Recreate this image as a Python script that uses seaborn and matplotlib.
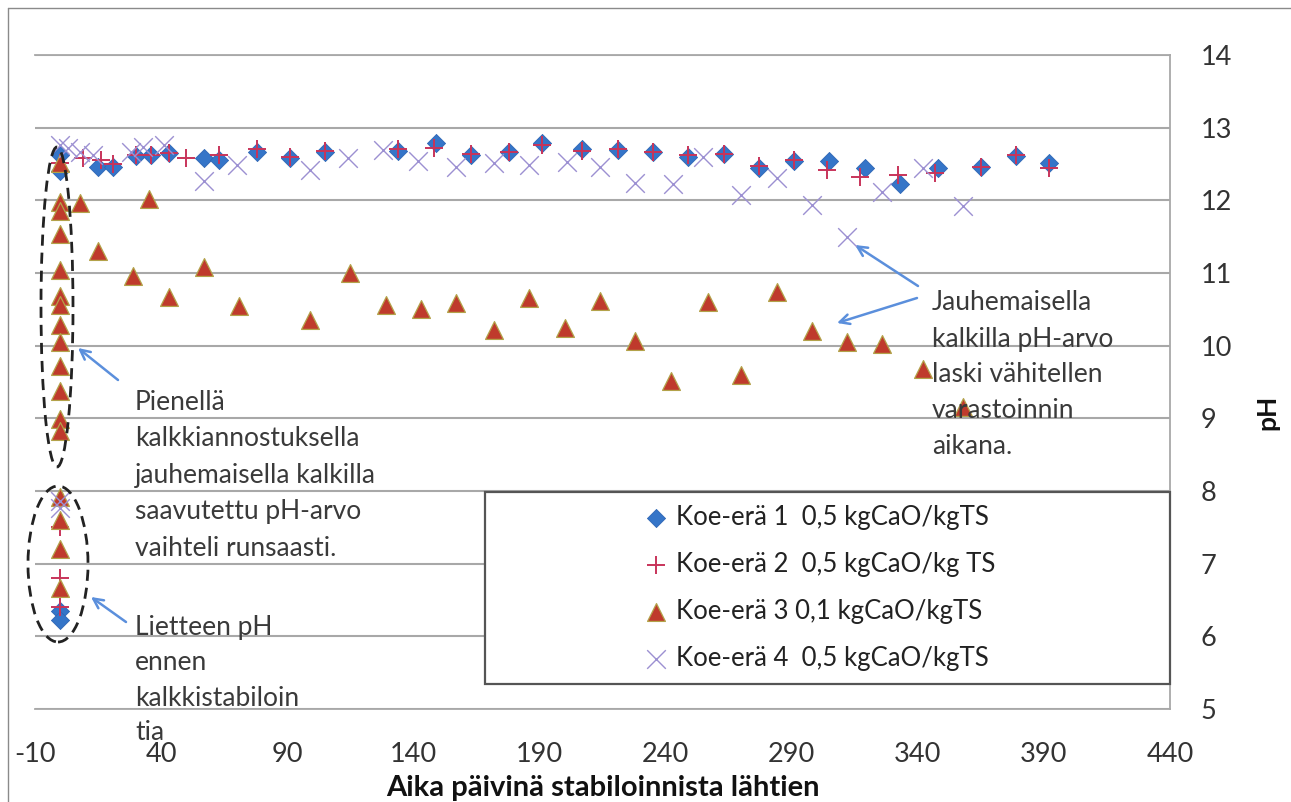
import numpy as np
import pandas as pd
import seaborn as sns
import matplotlib
matplotlib.use("Agg")
import matplotlib.pyplot as plt
from matplotlib.patches import Ellipse, Rectangle
from matplotlib.lines import Line2D

# ---------------- data ----------------
labels = ["Koe-erä 1  0,5 kgCaO/kgTS",
          "Koe-erä 2  0,5 kgCaO/kg TS",
          "Koe-erä 3 0,1 kgCaO/kgTS",
          "Koe-erä 4  0,5 kgCaO/kgTS"]

x1 = [0, 0, 0, 0, 15, 21, 30, 36, 43, 57, 63, 78, 91, 105, 134, 149, 163, 178, 191, 207,
      221, 235, 249, 263, 277, 291, 305, 319, 333, 348, 365, 379, 392]
y1 = [12.62, 12.40, 6.35, 6.22, 12.46, 12.46, 12.61, 12.62, 12.65, 12.58, 12.56, 12.67,
      12.58, 12.67, 12.68, 12.79, 12.62, 12.67, 12.79, 12.71, 12.69, 12.67, 12.60, 12.64,
      12.45, 12.54, 12.54, 12.45, 12.22, 12.45, 12.46, 12.61, 12.52]

x2 = [0, 0, 0, 0, 9, 16, 21, 30, 36, 43, 50, 63, 78, 91, 105, 134, 148, 163, 178, 191, 207,
      221, 235, 249, 263, 277, 291, 304, 317, 332, 347, 365, 379, 392]
y2 = [12.52, 7.50, 6.80, 6.40, 12.58, 12.55, 12.50, 12.62, 12.62, 12.65, 12.58, 12.63,
      12.70, 12.60, 12.68, 12.70, 12.72, 12.64, 12.67, 12.76, 12.68, 12.70, 12.67, 12.62,
      12.64, 12.47, 12.55, 12.42, 12.32, 12.35, 12.38, 12.46, 12.62, 12.45]

x3 = [0, 0, 0, 0, 0, 0, 0, 0, 0, 0, 0, 0, 0, 0, 0, 0, 0,
      8, 15, 29, 35, 43, 57, 71, 99, 115, 129, 143, 157, 172, 186, 200, 214, 228, 242,
      257, 270, 284, 298, 312, 326, 342, 358]
y3 = [12.52, 11.98, 11.86, 11.53, 11.04, 10.68, 10.56, 10.28, 10.05, 9.72, 9.37, 8.99,
      8.82, 7.92, 7.60, 7.20, 6.66,
      11.96, 11.30, 10.96, 12.02, 10.67, 11.08, 10.55, 10.36, 11.00, 10.56, 10.51, 10.59,
      10.21, 10.65, 10.25, 10.62, 10.06, 9.51, 10.60, 9.60, 10.74, 10.20, 10.05, 10.02,
      9.68, 9.16]

x4 = [0, 0, 0, 3, 8, 13, 28, 33, 41, 57, 70, 99, 114, 128, 142, 157, 172, 186, 201, 214,
      228, 243, 255, 270, 284, 298, 312, 326, 342, 358]
y4 = [12.76, 7.86, 7.76, 12.72, 12.67, 12.62, 12.67, 12.73, 12.76, 12.26, 12.49, 12.42,
      12.58, 12.69, 12.54, 12.46, 12.52, 12.49, 12.53, 12.46, 12.24, 12.22, 12.60, 12.08,
      12.31, 11.94, 11.49, 12.12, 12.45, 11.92]

x_ticks = [-10, 40, 90, 140, 190, 240, 290, 340, 390, 440]
y_ticks = [5, 6, 7, 8, 9, 10, 11, 12, 13, 14]

x_title = "Aika päivinä stabiloinnista lähtien"
y_title = "pH"

note_low_dose = ["Pienellä", "kalkkiannostuksella", "jauhemaisella kalkilla",
                 "saavutettu pH-arvo", "vaihteli runsaasti."]
note_initial = ["Lietteen pH", "ennen", "kalkkistabiloin", "tia"]
note_decline = ["Jauhemaisella", "kalkilla pH-arvo", "laski vähitellen",
                "varastoinnin", "aikana."]

# ---------------- style ----------------
sns.set_style("white")
plt.rcParams["font.family"] = ["Lato", "DejaVu Sans"]
plt.rcParams["axes.unicode_minus"] = False

W, H = 1291, 802
def fx(px):
    return px / W
def fy(py):
    return 1 - py / H

fig = plt.figure(figsize=(W / 100, H / 100), dpi=100, facecolor="white")
ax = fig.add_axes([fx(35), fy(709), 1135 / W, 654 / H])

series = [
    (x1, y1, labels[0], dict(marker="D", s=85, color="#3575c8", edgecolor="#2f67b5", linewidth=0.6)),
    (x2, y2, labels[1], dict(marker="+", s=150, color="#c8345a", linewidth=1.4)),
    (x3, y3, labels[2], dict(marker="^", s=165, color="#bf3a2c", edgecolor="#b3a24a", linewidth=0.9)),
    (x4, y4, labels[3], dict(marker="x", s=180, color="#9c90d2", linewidth=1.0)),
]
for i, (xs, ys, lab, kw) in enumerate(series):
    df = pd.DataFrame({"day": xs, "pH": ys})
    sns.scatterplot(data=df, x="day", y="pH", ax=ax, label=lab, zorder=3 + i, **kw)

ax.set_xlim(-10, 440)
ax.set_ylim(5, 14)
ax.set_xticks(x_ticks)
ax.set_yticks(y_ticks)
ax.yaxis.tick_right()
ax.tick_params(axis="both", length=0, labelsize=19.5, labelcolor="#333333")
ax.tick_params(axis="y", pad=22)
ax.tick_params(axis="x", pad=24)
ax.yaxis.grid(True, color="#a8a8a8", linewidth=1.5)
ax.xaxis.grid(False)
ax.set_axisbelow(True)
ax.spines["left"].set_visible(False)
for side in ["right", "top", "bottom"]:
    ax.spines[side].set_color("#a8a8a8")
    ax.spines[side].set_linewidth(1.3)

ax.set_xlabel(x_title, fontsize=21, fontweight="bold", color="#111111")
ax.xaxis.set_label_coords(0.5, (709 - 788) / 654)
ax.xaxis.label.set_va("center")
ax.yaxis.set_label_position("right")
ax.set_ylabel(y_title, fontsize=19, fontweight="bold", color="#111111", rotation=90)
ax.yaxis.set_label_coords((1267 - 35) / 1135, (709 - 412) / 654)
ax.yaxis.label.set_va("center")
ax.yaxis.label.set_ha("center")

# legend: white frame rectangle (axes artist, under the legend) + centred entries
ax.add_patch(Rectangle((fx(485), fy(684)), 685 / W, 192 / H, transform=fig.transFigure,
                       fill=True, facecolor="white", edgecolor="#555555", linewidth=1.6,
                       zorder=9, clip_on=False))
handles, labs = ax.get_legend_handles_labels()
leg = ax.legend(handles, labs, loc="center", bbox_to_anchor=(fx(820), fy(588)),
                bbox_transform=fig.transFigure, frameon=False, fontsize=18.5,
                labelspacing=0.85, handletextpad=0.35, handlelength=0.9, borderpad=0)
leg.set_zorder(10)
for t in leg.get_texts():
    t.set_color("#222222")

# annotation texts
def block(lines, x, y0, dy):
    for k, line in enumerate(lines):
        fig.text(fx(x), fy(y0 + k * dy), line, ha="left", va="center",
                 fontsize=19, color="#3a3a3a", zorder=2)

block(note_low_dose, 135, 402, 36.5)
block(note_initial, 135, 628, 35)
block(note_decline, 932, 303, 36)

# arrows
arrow_kw = dict(arrowstyle="->,head_length=0.7,head_width=0.35", color="#5b8fdc", lw=1.8,
                shrinkA=0, shrinkB=0)
for (tx, ty, hx, hy) in [(118, 380, 78, 348), (126, 622, 91, 597),
                         (918, 286, 855, 245), (917, 298, 837, 323)]:
    ax.annotate("", xy=(fx(hx), fy(hy)), xycoords="figure fraction",
                xytext=(fx(tx), fy(ty)), textcoords="figure fraction",
                arrowprops=arrow_kw, annotation_clip=False)

# dashed ellipses
fig.add_artist(Ellipse((fx(57), fy(307)), 32 / W, 320 / H, transform=fig.transFigure,
                       fill=False, edgecolor="#222222", linewidth=2.0, linestyle=(0, (4, 2.5)),
                       zorder=6))
fig.add_artist(Ellipse((fx(58), fy(564)), 60 / W, 156 / H, transform=fig.transFigure,
                       fill=False, edgecolor="#222222", linewidth=2.0, linestyle=(0, (4, 2.5)),
                       zorder=6))

# outer chart-area border (top and left edges visible)
fig.add_artist(Line2D([fx(8), fx(8)], [fy(8), 0], transform=fig.transFigure,
                      color="#8a8a8a", linewidth=1.0))
fig.add_artist(Line2D([fx(8), 1], [fy(8), fy(8)], transform=fig.transFigure,
                      color="#8a8a8a", linewidth=1.0))

fig.savefig("out.png", dpi=100, facecolor="white")
